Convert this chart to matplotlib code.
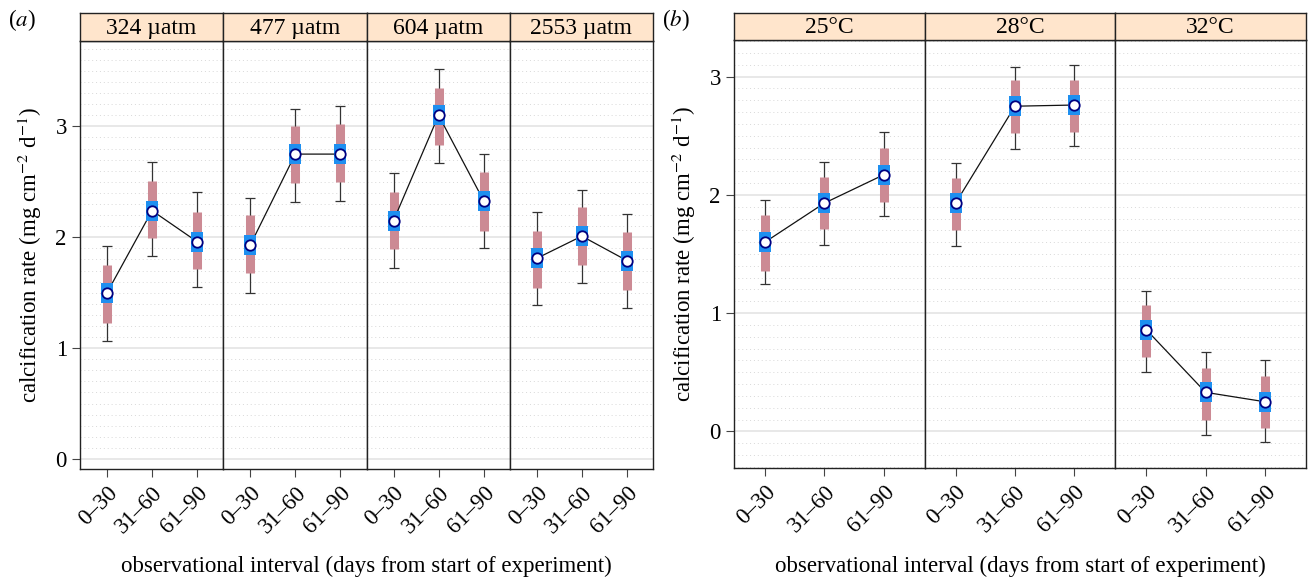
import matplotlib
matplotlib.use("Agg")
import matplotlib.pyplot as plt
from matplotlib.ticker import MultipleLocator

plt.rcParams["font.family"] = ["Liberation Serif", "DejaVu Serif"]
plt.rcParams["mathtext.fontset"] = "stix"

intervals = ["0–30", "31–60", "61–90"]

# (a) pCO2 treatments
co2_levels = ["324 µatm", "477 µatm", "604 µatm", "2553 µatm"]
co2_median = [[1.50, 2.24, 1.96], [1.93, 2.75, 2.75], [2.15, 3.10, 2.33], [1.81, 2.01, 1.79]]
co2_inner_lo = [[1.23, 1.99, 1.71], [1.68, 2.49, 2.50], [1.89, 2.83, 2.06], [1.54, 1.75, 1.52]]
co2_inner_hi = [[1.75, 2.51, 2.23], [2.20, 3.00, 3.02], [2.41, 3.35, 2.59], [2.06, 2.27, 2.05]]
co2_outer_lo = [[1.06, 1.83, 1.55], [1.50, 2.32, 2.33], [1.72, 2.67, 1.90], [1.39, 1.59, 1.36]]
co2_outer_hi = [[1.92, 2.68, 2.41], [2.35, 3.16, 3.18], [2.58, 3.52, 2.75], [2.23, 2.43, 2.21]]

# (b) temperature treatments
temp_levels = ["25°C", "28°C", "32°C"]
temp_median = [[1.60, 1.93, 2.17], [1.93, 2.75, 2.76], [0.86, 0.33, 0.25]]
temp_inner_lo = [[1.36, 1.71, 1.94], [1.70, 2.52, 2.53], [0.63, 0.10, 0.03]]
temp_inner_hi = [[1.83, 2.15, 2.40], [2.14, 2.97, 2.97], [1.07, 0.54, 0.47]]
temp_outer_lo = [[1.25, 1.58, 1.82], [1.57, 2.39, 2.41], [0.50, -0.03, -0.09]]
temp_outer_hi = [[1.96, 2.28, 2.53], [2.27, 3.08, 3.10], [1.19, 0.67, 0.60]]

STRIP_BG = "#ffe5cc"
RED = "#cc8a94"
BLUE = "#1e8ff0"
NAVY = "#000080"
BOX_MARKER = [(-0.65, -1), (0.65, -1), (0.65, 1), (-0.65, 1), (-0.65, -1)]
FS = 16.5

W, H = 1311, 580
fig = plt.figure(figsize=(W / 100, H / 100), dpi=100)


def px_axes(x0, y0, x1, y1):
    return fig.add_axes([x0 / W, 1 - y1 / H, (x1 - x0) / W, (y1 - y0) / H])


def draw_group(x0, x1, y_strip, y_top, y_bot, levels, med, ilo, ihi, olo, ohi,
               ylim, xlim, tag):
    n = len(levels)
    pw = (x1 - x0) / n
    xs = [1, 2, 3]
    for k, name in enumerate(levels):
        left = x0 + k * pw
        ax = px_axes(left, y_top, left + pw, y_bot)
        sax = px_axes(left, y_strip, left + pw, y_top)
        sax.set_facecolor(STRIP_BG)
        sax.set_xticks([])
        sax.set_yticks([])
        sax.text(0.5, 0.45, name, ha="center", va="center", fontsize=17,
                 transform=sax.transAxes)
        for s in sax.spines.values():
            s.set_linewidth(1.0)
            s.set_color("#222222")

        ax.set_xlim(*xlim)
        ax.set_ylim(*ylim)
        ax.yaxis.set_major_locator(MultipleLocator(1))
        ax.yaxis.set_minor_locator(MultipleLocator(0.1))
        ax.grid(True, which="major", axis="y", color="#e4e4e4", lw=1.2)
        ax.grid(True, which="minor", axis="y", color="#d8d8d8", lw=0.7,
                linestyle=(0, (1, 3)))
        ax.set_axisbelow(True)
        ax.tick_params(which="minor", length=0)
        ax.tick_params(which="major", length=6, color="#444444", labelsize=FS,
                       direction="out")
        ax.set_xticks(xs)
        ax.set_xticklabels(intervals, rotation=45, ha="right",
                           rotation_mode="anchor", fontsize=FS)
        if k > 0:
            ax.tick_params(axis="y", left=False, labelleft=False)
        for s in ax.spines.values():
            s.set_linewidth(1.0)
            s.set_color("#222222")

        ax.errorbar(xs, med[k],
                    yerr=[[m - lo for m, lo in zip(med[k], olo[k])],
                          [hi - m for m, hi in zip(med[k], ohi[k])]],
                    fmt="none", ecolor="#333333", elinewidth=0.9, capsize=3.8,
                    capthick=0.9, zorder=2)
        ax.vlines(xs, ilo[k], ihi[k], colors=RED, lw=6.5, capstyle="butt",
                  zorder=3)
        ax.plot(xs, med[k], color="#111111", lw=0.9, zorder=4)
        ax.plot(xs, med[k], linestyle="none", marker=BOX_MARKER, ms=14,
                mfc=BLUE, mec=BLUE, mew=0, zorder=5)
        ax.plot(xs, med[k], linestyle="none", marker="o", ms=7.5,
                mfc="white", mec=NAVY, mew=1.3, zorder=6)
        if k == 0:
            ax.set_ylabel(r"calcification rate (mg cm$^{-2}$ d$^{-1}$)",
                          fontsize=FS, labelpad=8)
    fig.text((x0 + x1) / 2 / W, 1 - 566 / H,
             "observational interval (days from start of experiment)",
             ha="center", va="center", fontsize=FS)
    fig.text((x0 - 72) / W, 1 - 20 / H, tag, ha="left", va="center",
             fontsize=FS)


draw_group(80, 653, 13, 41, 469, co2_levels, co2_median, co2_inner_lo,
           co2_inner_hi, co2_outer_lo, co2_outer_hi, (-0.09, 3.77),
           (0.4, 3.58), "($a$)")
draw_group(734, 1306, 13, 40, 468, temp_levels, temp_median, temp_inner_lo,
           temp_inner_hi, temp_outer_lo, temp_outer_hi, (-0.31, 3.31),
           (0.48, 3.69), "($b$)")

fig.savefig("out.png", dpi=100)
